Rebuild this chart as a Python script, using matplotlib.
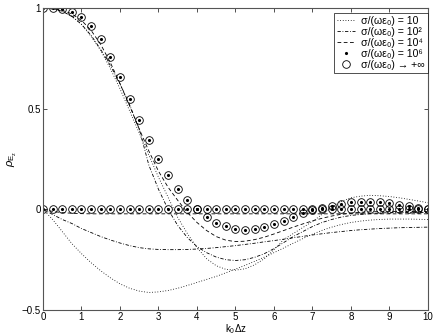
import numpy as np
import matplotlib
matplotlib.use("Agg")
import matplotlib.pyplot as plt

plt.rcParams['font.family'] = ['Liberation Sans', 'DejaVu Sans']
plt.rcParams['mathtext.fontset'] = 'custom'
plt.rcParams['mathtext.rm'] = 'Liberation Sans'
plt.rcParams['mathtext.it'] = 'Liberation Sans:italic'

# sample positions (k0*dz)
x = np.arange(0, 10.001, 0.25)

# ---- group A : curves starting at 1 ----
a_inf = [1.0, 1.0, 0.995, 0.98, 0.955, 0.91, 0.845, 0.76, 0.66, 0.55, 0.445,
         0.345, 0.252, 0.172, 0.103, 0.045, 0.0, -0.038, -0.066, -0.084, -0.096,
         -0.1, -0.096, -0.085, -0.073, -0.058, -0.037, -0.02, -0.005, 0.008, 0.019,
         0.028, 0.035, 0.038, 0.038, 0.035, 0.03, 0.024, 0.017, 0.009, 0.0]
a_1e6 = list(a_inf)
a_1e4 = [1.0, 0.998, 0.99, 0.972, 0.94, 0.89, 0.82, 0.73, 0.625, 0.515, 0.4,
         0.29, 0.19, 0.11, 0.045, -0.015, -0.065, -0.105, -0.135, -0.153, -0.16,
         -0.158, -0.15, -0.138, -0.122, -0.105, -0.088, -0.072, -0.057, -0.044, -0.033,
         -0.024, -0.018, -0.014, -0.012, -0.011, -0.01, -0.01, -0.01, -0.01, -0.01]
a_1e2 = [1.0, 0.997, 0.985, 0.96, 0.92, 0.865, 0.795, 0.715, 0.625, 0.52, 0.4,
         0.22, 0.1, 0.0, -0.08, -0.14, -0.185, -0.215, -0.237, -0.25, -0.254,
         -0.25, -0.238, -0.22, -0.195, -0.165, -0.135, -0.11, -0.085, -0.065, -0.05,
         -0.038, -0.03, -0.025, -0.021, -0.018, -0.016, -0.015, -0.015, -0.015, -0.015]
a_1e1 = [1.0, 0.997, 0.985, 0.96, 0.92, 0.86, 0.79, 0.7, 0.6, 0.49, 0.38,
         0.27, 0.16, 0.06, -0.04, -0.12, -0.19, -0.245, -0.28, -0.298, -0.302,
         -0.295, -0.275, -0.245, -0.2, -0.15, -0.12, -0.09, -0.06, -0.025, 0.01,
         0.04, 0.058, 0.066, 0.07, 0.068, 0.064, 0.058, 0.05, 0.042, 0.033]

# ---- group B : curves starting at 0 ----
b_inf = [0.0] * 41
b_1e6 = [0.0] * 41
b_1e4 = [0.0, -0.01, -0.016, -0.019, -0.021, -0.022, -0.022, -0.022, -0.022, -0.022, -0.022,
         -0.022, -0.022, -0.022, -0.022, -0.022, -0.022, -0.022, -0.022, -0.022, -0.022,
         -0.022, -0.022, -0.022, -0.022, -0.022, -0.022, -0.022, -0.022, -0.022, -0.022,
         -0.022, -0.022, -0.022, -0.022, -0.022, -0.022, -0.022, -0.022, -0.022, -0.022]
b_1e2 = [0.0, -0.025, -0.05, -0.07, -0.095, -0.115, -0.135, -0.152, -0.167, -0.18, -0.19,
         -0.196, -0.199, -0.2, -0.2, -0.199, -0.197, -0.194, -0.19, -0.185, -0.18,
         -0.174, -0.168, -0.161, -0.155, -0.148, -0.141, -0.134, -0.127, -0.121, -0.115,
         -0.11, -0.105, -0.101, -0.098, -0.095, -0.093, -0.091, -0.09, -0.089, -0.088]
b_1e1 = [0.0, -0.05, -0.11, -0.17, -0.22, -0.265, -0.305, -0.34, -0.37, -0.392, -0.406,
         -0.413, -0.41, -0.403, -0.392, -0.378, -0.363, -0.348, -0.333, -0.315, -0.297,
         -0.278, -0.258, -0.237, -0.215, -0.192, -0.168, -0.145, -0.123, -0.104, -0.088,
         -0.075, -0.065, -0.058, -0.053, -0.05, -0.048, -0.048, -0.048, -0.049, -0.05]

legend_labels = ['\u03c3/(\u03c9\u03b5\u2080) = 10',
                 '\u03c3/(\u03c9\u03b5\u2080) = 10\u00b2',
                 '\u03c3/(\u03c9\u03b5\u2080) = 10\u2074',
                 '\u03c3/(\u03c9\u03b5\u2080) = 10\u2076',
                 '\u03c3/(\u03c9\u03b5\u2080) \u2192 +\u221e']

xticks = list(range(0, 11))
yticks = [-0.5, 0, 0.5, 1]
yticklabels = ['\u22120.5', '0', '0.5', '1']

fig = plt.figure(figsize=(4.36, 3.36), dpi=100)
ax = fig.add_axes([0.0986, 0.0774, 0.883, 0.898])

lw = 0.6
dotted = (0, (1, 2.2))
dashdot = (0, (4, 2, 1, 2))
dashed = (0, (4.5, 3))

l1, = ax.plot(x, a_1e1, color='k', lw=lw, linestyle=dotted)
l2, = ax.plot(x, a_1e2, color='k', lw=lw, linestyle=dashdot)
l3, = ax.plot(x, a_1e4, color='k', lw=lw, linestyle=dashed)
l4, = ax.plot(x, a_1e6, color='k', marker='.', markersize=2.5, linestyle='none')
l5, = ax.plot(x, a_inf, color='k', marker='o', markersize=5.5, markerfacecolor='none',
              markeredgewidth=0.6, linestyle='none')
ax.plot(x, b_1e1, color='k', lw=lw, linestyle=dotted)
ax.plot(x, b_1e2, color='k', lw=lw, linestyle=dashdot)
ax.plot(x, b_1e4, color='k', lw=lw, linestyle=dashed)
ax.plot(x, b_1e6, color='k', marker='.', markersize=2.5, linestyle='none')
ax.plot(x, b_inf, color='k', marker='o', markersize=5.5, markerfacecolor='none',
        markeredgewidth=0.6, linestyle='none')

ax.set_xlim(0, 10)
ax.set_ylim(-0.5, 1)
ax.set_xticks(xticks)
ax.set_yticks(yticks)
ax.set_yticklabels(yticklabels)
ax.tick_params(direction='in', top=True, right=True, labelsize=7, length=3, width=0.6,
               colors='#333333', labelcolor='k', pad=1.5)
for s in ax.spines.values():
    s.set_linewidth(0.8)
    s.set_color('#555555')

ax.set_xlabel(r'k$_0$$\Delta$z', fontsize=7, labelpad=0)
ax.set_ylabel(r'$\rho_{\mathregular{E_z}}$', fontsize=8, labelpad=2)

leg = ax.legend([l1, l2, l3, l4, l5], legend_labels, loc='upper right',
                bbox_to_anchor=(1.0, 0.985), fontsize=7.6, frameon=True, fancybox=False,
                edgecolor='k', handlelength=1.7, handletextpad=0.55, borderpad=0.3,
                labelspacing=0.1, borderaxespad=0.0)
leg.get_frame().set_linewidth(0.6)

fig.savefig('out.png', dpi=100)
